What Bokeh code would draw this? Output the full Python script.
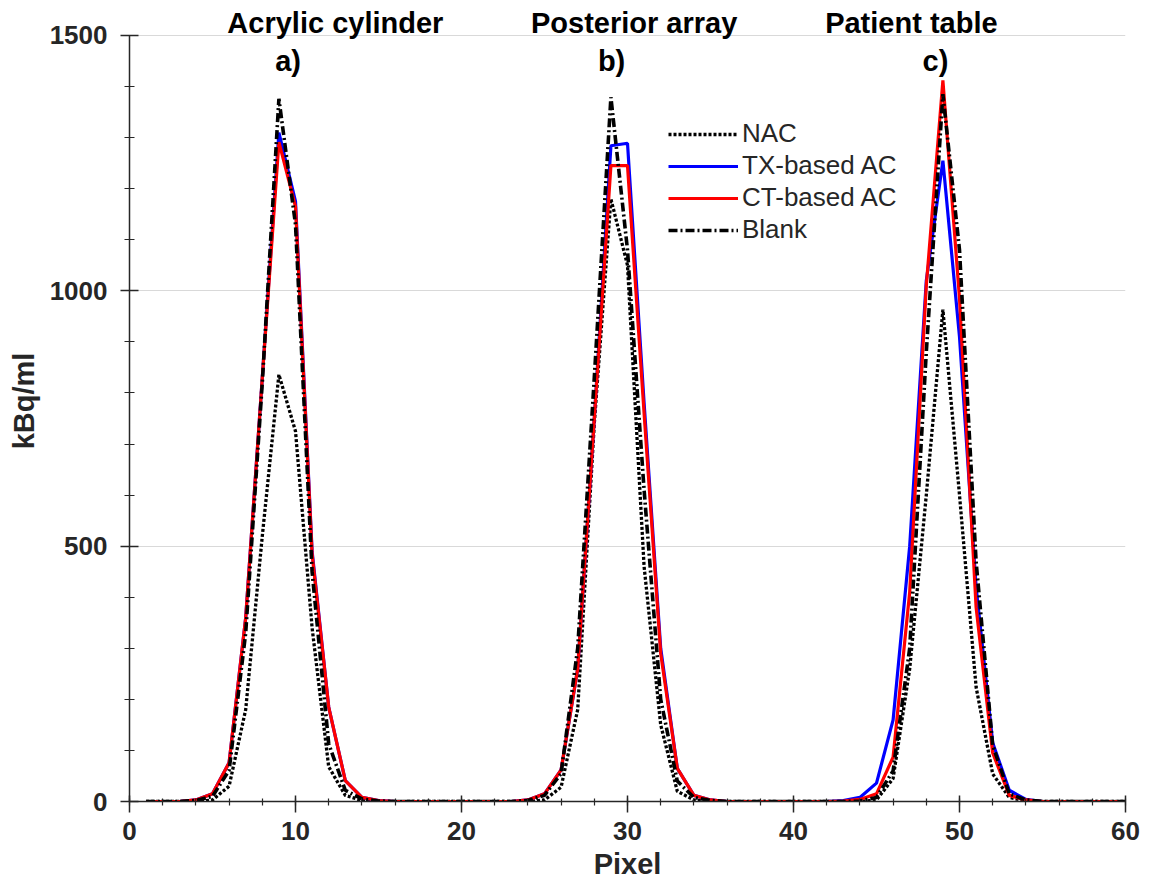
from bokeh.plotting import figure
from bokeh.models import Range1d, FixedTicker, Label, Legend, LegendItem
from bokeh.embed import file_html
from bokeh.resources import INLINE

pixel = list(range(1, 61))

nac = [0, 0, 0, 0, 3, 30, 180, 520, 836, 725,
       340, 68, 12, 2, 0, 0, 0, 0, 0, 0,
       0, 0, 0, 0, 3, 28, 180, 740, 1180, 1050,
       460, 150, 20, 3, 0, 0, 0, 0, 0, 0,
       0, 0, 0, 0, 3, 45, 260, 600, 963, 600,
       224, 54, 8, 1, 0, 0, 0, 0, 0, 0]

tx_ac = [0, 0, 0, 3, 15, 76, 360, 830, 1310, 1175,
         490, 185, 41, 8, 2, 0, 0, 0, 0, 0,
         0, 0, 0, 3, 15, 62, 260, 750, 1284, 1289,
         780, 300, 65, 12, 3, 0, 0, 0, 0, 0,
         0, 0, 2, 8, 36, 160, 500, 1020, 1255, 910,
         420, 115, 22, 4, 0, 0, 0, 0, 0, 0]

ct_ac = [0, 0, 0, 3, 15, 76, 360, 830, 1291, 1165,
         485, 185, 41, 8, 2, 0, 0, 0, 0, 0,
         0, 0, 0, 3, 15, 62, 260, 750, 1245, 1245,
         760, 290, 65, 12, 3, 0, 0, 0, 0, 0,
         0, 0, 1, 4, 15, 87, 410, 1010, 1412, 985,
         380, 95, 12, 3, 0, 0, 0, 0, 0, 0]

blank = [0, 0, 0, 2, 10, 61, 330, 820, 1376, 1130,
         450, 113, 22, 5, 1, 0, 0, 0, 0, 0,
         0, 0, 0, 2, 12, 55, 300, 830, 1379, 1080,
         610, 200, 40, 8, 2, 0, 0, 0, 0, 0,
         0, 0, 0, 1, 8, 60, 300, 880, 1385, 1080,
         470, 110, 15, 3, 0, 0, 0, 0, 0, 0]

series_names = ["NAC", "TX-based AC", "CT-based AC", "Blank"]
x_ticks = [0, 10, 20, 30, 40, 50, 60]
y_ticks = [0, 500, 1000, 1500]
titles = ["Acrylic cylinder", "Posterior array", "Patient table"]
title_x = [12.4, 30.4, 47.1]
panel_tags = ["a)", "b)", "c)"]
tag_x = [9.55, 29.04, 48.55]

FONT = "Liberation Sans"
TXT = "#262626"

p = figure(width=1141, height=884, output_backend="svg", toolbar_location=None,
           x_range=Range1d(0, 60), y_range=Range1d(0, 1568.5),
           min_border_left=129, min_border_right=16, min_border_top=0, min_border_bottom=83)
p.outline_line_color = None
p.background_fill_color = "white"

r_nac = p.line(pixel, nac, line_color="black", line_width=3.3, line_dash="3 2")
r_tx = p.line(pixel, tx_ac, line_color="#0000ff", line_width=3.2)
r_ct = p.line(pixel, ct_ac, line_color="#ff0000", line_width=3.2)
r_bl = p.line(pixel, blank, line_color="black", line_width=3.6, line_dash="9 3 2 3")

# axes
p.xaxis.ticker = FixedTicker(ticks=x_ticks, minor_ticks=list(range(0, 61, 2)))
p.yaxis.ticker = FixedTicker(ticks=y_ticks, minor_ticks=list(range(0, 1501, 100)))
p.yaxis.bounds = (0, 1500)
for ax in (p.xaxis[0], p.yaxis[0]):
    ax.axis_line_color = TXT
    ax.axis_line_width = 1.5
    ax.major_tick_line_color = TXT
    ax.minor_tick_line_color = TXT
    ax.major_tick_line_width = 1.5
    ax.minor_tick_line_width = 1.2
    ax.major_label_text_font = FONT
    ax.major_label_text_font_size = "26px"
    ax.major_label_text_font_style = "bold"
    ax.major_label_text_color = TXT
    ax.axis_label_text_font = FONT
    ax.axis_label_text_font_size = "29px"
    ax.axis_label_text_font_style = "bold"
    ax.axis_label_text_color = TXT

p.xaxis.major_tick_in = 6
p.xaxis.major_tick_out = 11
p.xaxis.minor_tick_in = 3
p.xaxis.minor_tick_out = 4
p.xaxis.major_label_standoff = 9
p.xaxis.axis_label = "Pixel"
p.xaxis.axis_label_standoff = 5

p.yaxis.major_tick_in = 9
p.yaxis.major_tick_out = 9
p.yaxis.minor_tick_in = 5
p.yaxis.minor_tick_out = 5
p.yaxis.major_label_standoff = 13
p.yaxis.axis_label = "kBq/ml"
p.yaxis.axis_label_standoff = 7

p.xgrid.visible = False
p.ygrid.ticker = FixedTicker(ticks=y_ticks)
p.ygrid.grid_line_color = "#d9d9d9"
p.ygrid.grid_line_width = 1.2

for t, tx in zip(titles, title_x):
    p.add_layout(Label(x=tx, y=1525, text=t, text_font=FONT, text_font_size="29px",
                       text_font_style="bold", text_align="center", text_baseline="middle",
                       text_color="black"))
for t, tx in zip(panel_tags, tag_x):
    p.add_layout(Label(x=tx, y=1451, text=t, text_font=FONT, text_font_size="29px",
                       text_font_style="bold", text_align="center", text_baseline="middle",
                       text_color="black"))

legend = Legend(items=[LegendItem(label=n, renderers=[r]) for n, r in
                       zip(series_names, [r_nac, r_tx, r_ct, r_bl])],
                location=(539, 556), glyph_width=70, glyph_height=28, label_height=28,
                spacing=1, padding=0, margin=0, label_standoff=4,
                label_text_font=FONT, label_text_font_size="26px", label_text_color=TXT,
                border_line_color=None, background_fill_alpha=0)
p.add_layout(legend)

open("out.html", "w").write(file_html(p, INLINE))
